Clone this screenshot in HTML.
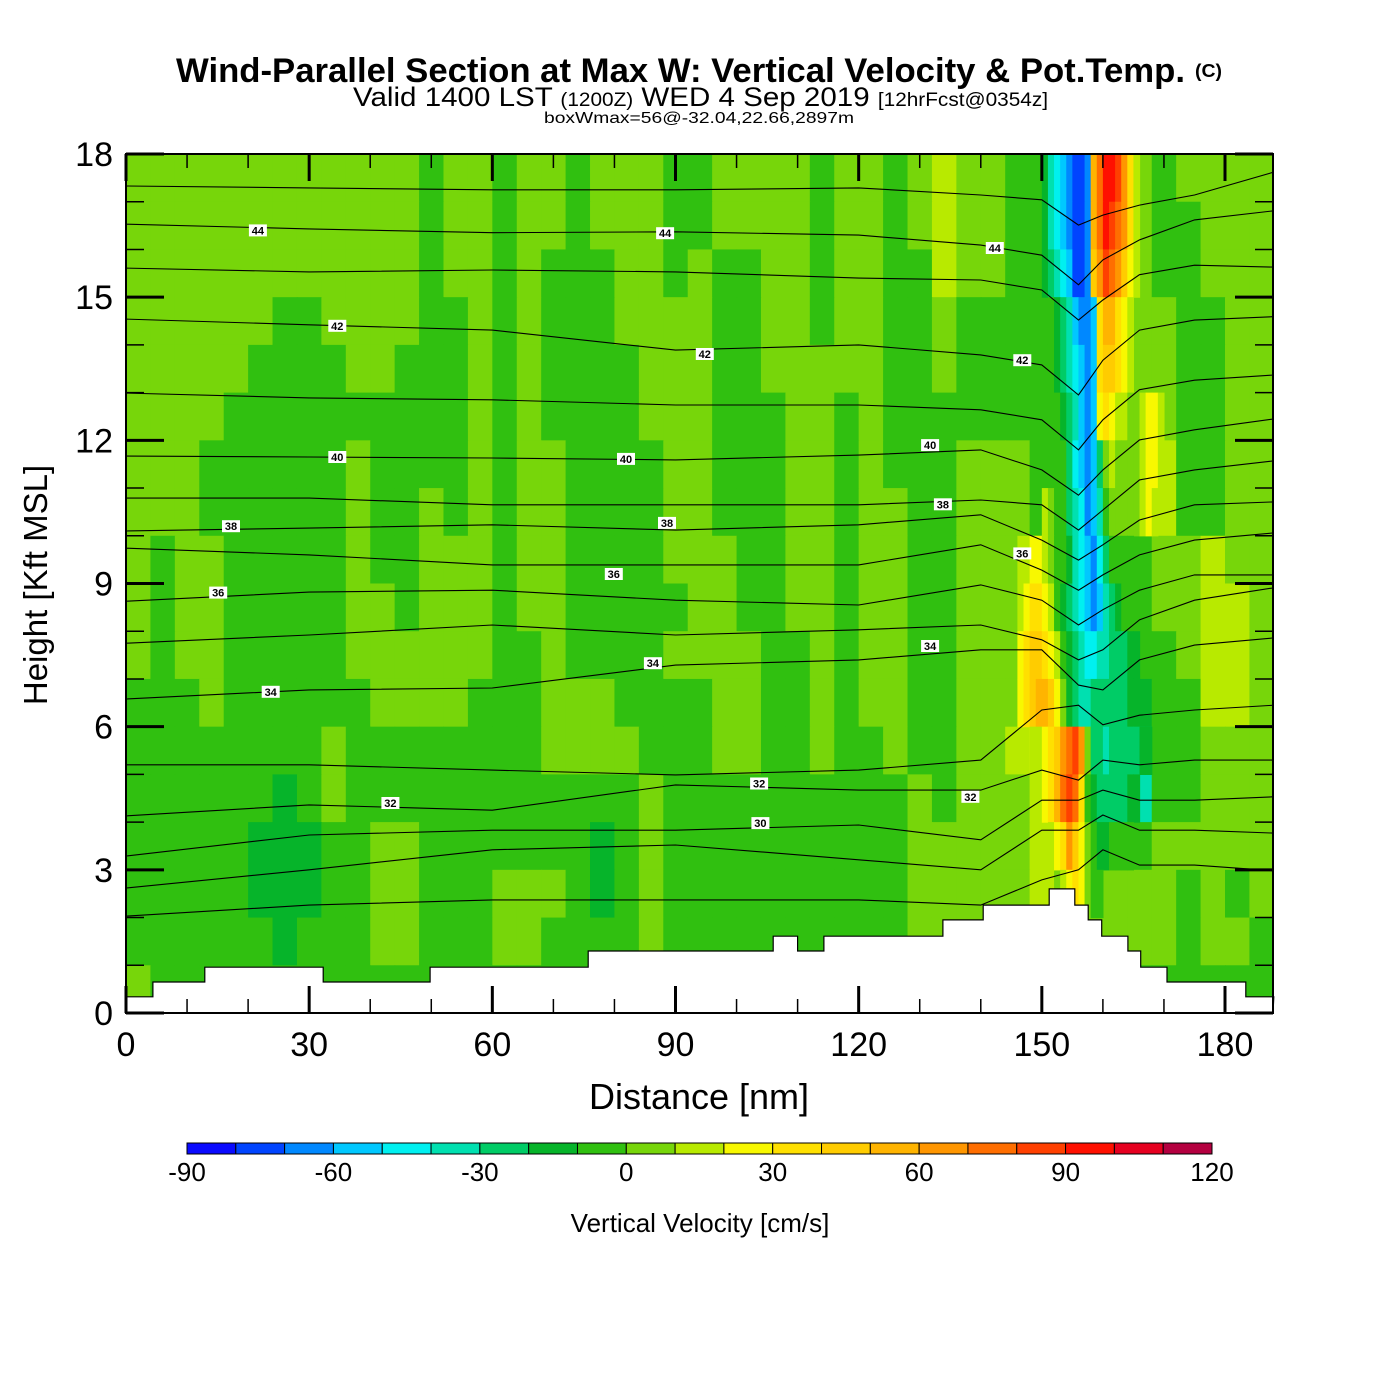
<!DOCTYPE html>
<html><head><meta charset="utf-8">
<style>
html,body{margin:0;padding:0;background:#fff;}
svg{display:block;font-family:"Liberation Sans",Arial,sans-serif;}
</style></head>
<body>
<svg id="chart" width="1400" height="1400" viewBox="0 0 1400 1400" xmlns="http://www.w3.org/2000/svg">
<rect x="0" y="0" width="1400" height="1400" fill="#fff"/>
<g>
<text x="176" y="82" font-size="34" font-weight="bold" textLength="1009" lengthAdjust="spacingAndGlyphs">Wind-Parallel Section at Max W: Vertical Velocity &amp; Pot.Temp.</text>
<text x="1195" y="77" font-size="18" font-weight="bold" textLength="27" lengthAdjust="spacingAndGlyphs">(C)</text>
<text x="353" y="106" font-size="27" textLength="695" lengthAdjust="spacingAndGlyphs">Valid 1400 LST <tspan font-size="19">(1200Z)</tspan> WED 4 Sep 2019 <tspan font-size="19">[12hrFcst@0354z]</tspan></text>
<text x="544" y="123" font-size="16" textLength="310" lengthAdjust="spacingAndGlyphs">boxWmax=56@-32.04,22.66,2897m</text>
</g>
<defs><clipPath id="plotclip"><rect x="126" y="154" width="1147" height="859"/></clipPath></defs>
<g id="field" clip-path="url(#plotclip)"></g>
<g id="theta" clip-path="url(#plotclip)"></g>
<g id="terrain"></g>
<g id="thetaLabels"></g>
<g id="axes"></g>
<g id="cbar"></g>
</svg>
<script>
// ---- data ----
const levelColors = ["#0a0aff","#0044ff","#0088ff","#00c8ff","#00f0f0","#00e0b0","#00cc66","#06b42a","#30c010","#77d60a","#b8ea00","#f8f800","#ffe000","#ffcc00","#ffb400","#ff9600","#ff6e00","#ff4000","#ff1000","#e60020","#b40040"];
const levelCodes = "0123456789abcdefghijk";
const cbarTicks = [-90,-60,-30,0,30,60,90,120];
const xTicks = [0,30,60,90,120,150,180];
const yTicks = [0,3,6,9,12,15,18];
const colWidthNm = 4;
const rowHeightKft = 1;
// background velocity bins (one char per 4-nm column), row 0 = 17-18 kft
const wRows = [
"999999999999"+"899"+"899"+"8999"+"88"+"9999"+"899"+"89a99"+"88888"+"98"+"9999",
"999999999999"+"899"+"899"+"8999"+"88"+"9999"+"899"+"89a99"+"88888"+"98"+"8999",
"999999999999"+"8"+"99"+"89888"+"99"+"8"+"9"+"88"+"99"+"8"+"99"+"88"+"a"+"99"+"88888"+"9"+"88"+"999",
"999999"+"88"+"9999"+"88"+"9"+"8"+"9"+"888"+"9999"+"88"+"99"+"8"+"99"+"88"+"9"+"88"+"88888"+"99"+"88"+"99",
"99999"+"8888"+"99"+"888"+"9"+"8"+"9"+"8888"+"999"+"88"+"99999"+"88"+"9"+"8888888"+"99"+"88"+"99",
"9999"+"8888888888"+"9"+"8"+"9"+"8888"+"999"+"888"+"99"+"8"+"9"+"8888888888"+"99"+"88"+"99",
"999"+"888888"+"9"+"8888"+"9"+"8"+"99"+"8888"+"99"+"888"+"99"+"8"+"9"+"888"+"999"+"8888"+"9"+"a"+"88"+"99",
"999"+"888888"+"9"+"88"+"9"+"8"+"9"+"8"+"99"+"8888"+"99"+"888"+"99"+"8"+"99"+"88"+"999"+"8888"+"9"+"a"+"88"+"99",
"9"+"8"+"99"+"88888"+"9"+"88"+"999"+"8"+"99"+"8888"+"999"+"88"+"99"+"8"+"99"+"88"+"9999"+"888"+"8"+"99"+"a"+"99",
"9"+"8"+"99"+"88888"+"99"+"8"+"999"+"8"+"99"+"88888"+"99"+"88"+"99"+"8"+"99"+"88"+"999"+"a"+"888"+"8"+"99"+"aa"+"9",
"9"+"8"+"99"+"88888"+"999999"+"88"+"9"+"8888"+"9999"+"88"+"9"+"8"+"99"+"88"+"999"+"a"+"888"+"88"+"9"+"aa"+"9",
"888"+"9"+"888888"+"9999"+"888"+"999"+"8888"+"99"+"88"+"9"+"8"+"99"+"88"+"999"+"c"+"888"+"7"+"88"+"aa"+"9",
"88888888"+"9"+"88888888"+"9999"+"888"+"99"+"88"+"9"+"88"+"9"+"88"+"99"+"a"+"b"+"888"+"6"+"88"+"999",
"888888"+"7"+"8"+"9"+"888888888888"+"9"+"8888888888"+"9"+"8"+"999"+"a"+"888"+"5"+"88"+"999",
"88888"+"777"+"88"+"99"+"8888888"+"7"+"8"+"9"+"8888888888"+"99999"+"a"+"888"+"8"+"99999",
"88888"+"777"+"88"+"99"+"888"+"999"+"8"+"7"+"8"+"9"+"8888888888"+"99999"+"a"+"999"+"99"+"8"+"9"+"8"+"9",
"888888"+"7"+"888"+"99"+"888"+"99"+"8888"+"9"+"8888888888"+"999999"+"9999"+"9"+"8"+"99"+"8",
"9"+"8888888888888888888888888888888888888888888888"
];
// narrow updraft/downdraft couplet, 1 nm cells
const stripeStartNm = [150,150,150,151,151,151,151,150,146,146,146,146,148,149,151,153,0,0];
const stripeLevels = [
"75432112egiihfca",
"75432112egihgfca",
"76543112dfhgfdba",
"87653223ceecba",
"87654323cddcba",
"88765323bcbaa99abba",
"8886432369a9999abba",
"a988654235899999aba",
"aabba98875432468888",
"abccba8765432356788",
"bcddcba8765445566677",
"bcdeedb9765566666677",
"aabcdfghf96656666677",
"abceghgc876666677",
"abcfdb98778888",
"abcb988",
"",
""
];
// terrain steps
const terrainStartNm = [0,4.4,12.9,32.3,49.8,75.7,106,110,114.3,133.8,140.4,151.2,155.4,157.6,159.8,164.1,166.2,170.5,183.4];
const terrainEndNm   = [4.4,12.9,32.3,49.8,75.7,106,110,114.3,133.8,140.4,151.2,155.4,157.6,159.8,164.1,166.2,170.5,183.4,188];
const terrainKft     = [0.34,0.65,0.96,0.65,0.96,1.3,1.61,1.3,1.61,1.95,2.26,2.6,2.26,1.95,1.61,1.3,0.96,0.65,0.34];
// potential temperature isentropes
const thetaXNm = [0,30,60,90,120,140,150,156,160,166,175,188];
const thetaValues = [45,44,43,42,41,40,39,38,37,36,35,34,33,32,31,30,29];
const th45 = [17.33,17.29,17.25,17.25,17.29,17.14,17.04,16.51,16.72,16.93,17.14,17.62];
const th44 = [16.53,16.43,16.35,16.37,16.30,16.09,15.88,15.26,15.78,16.20,16.62,16.81];
const th43 = [15.61,15.53,15.57,15.53,15.40,15.36,15.15,14.52,14.94,15.47,15.67,15.63];
const th42 = [14.54,14.42,14.31,13.89,14.00,13.79,13.58,12.95,13.68,14.31,14.52,14.59];
const th41 = [12.99,12.89,12.85,12.74,12.74,12.64,12.43,11.80,12.43,13.06,13.26,13.37];
const th40 = [11.67,11.65,11.63,11.59,11.69,11.80,11.38,10.85,11.38,12.01,12.22,12.45];
const th39 = [10.79,10.79,10.65,10.65,10.65,10.75,10.65,10.12,10.54,11.17,11.38,11.57];
const th38 = [10.10,10.16,10.23,10.12,10.23,10.44,9.91,9.49,9.81,10.33,10.65,10.71];
const th37 = [9.74,9.60,9.39,9.39,9.39,9.81,9.28,8.86,9.18,9.60,9.91,10.06];
const th36 = [8.63,8.82,8.86,8.65,8.55,8.97,8.65,8.13,8.45,8.86,9.18,9.18];
const th35 = [7.75,7.92,8.13,7.92,8.03,8.13,7.82,7.40,7.61,8.24,8.65,8.91];
const th34 = [6.58,6.77,6.81,7.29,7.40,7.61,7.61,6.87,6.77,7.40,7.71,7.86];
const th33 = [5.20,5.20,5.09,4.99,5.09,5.30,6.35,6.45,6.04,6.24,6.35,6.45];
const th32 = [4.13,4.36,4.25,4.78,4.67,4.67,5.09,4.88,5.30,5.20,5.30,5.30];
const th31 = [3.29,3.73,3.83,3.83,3.94,3.63,4.46,4.46,4.67,4.46,4.46,4.53];
const th30 = [2.62,3.00,3.42,3.52,3.21,3.00,3.83,3.83,4.15,3.83,3.83,3.77];
const th29 = [2.03,2.26,2.37,2.37,2.37,2.26,2.79,3.00,3.42,3.10,3.10,2.98];
const thetaLines = [th45,th44,th43,th42,th41,th40,th39,th38,th37,th36,th35,th34,th33,th32,th31,th30,th29];
const labelText = ["44","44","44","42","42","42","40","40","40","38","38","38","36","36","36","34","34","34","32","32","32","30"];
const labelNm  = [21.6,88.3,142.3,34.6,94.8,146.8,34.6,81.9,131.7,17.2,88.6,133.8,15.1,79.9,146.8,23.7,86.3,131.7,43.3,103.7,138.3,103.9];
const labelKft = [16.40,16.34,16.03,14.40,13.81,13.68,11.65,11.61,11.90,10.20,10.27,10.66,8.81,9.20,9.63,6.73,7.33,7.69,4.40,4.81,4.53,3.98];
</script>
<script>
const NS="http://www.w3.org/2000/svg";
const X0=126, X1=1273, Y0=1013, Y1=154, XMAX=188, YMAX=18;
function xS(nm){return X0+nm*(1225-126)/180;}
function yS(k){return Y0-k*(Y0-Y1)/YMAX;}
function mk(tag,attrs,parent){const e=document.createElementNS(NS,tag);for(const k in attrs)e.setAttribute(k,attrs[k]);parent.appendChild(e);return e;}
function colorOf(ch){const i=levelCodes.indexOf(ch);return levelColors[i<0?9:i];}

const field=document.getElementById('field');
mk('rect',{x:X0,y:Y1,width:X1-X0,height:Y0-Y1,fill:levelColors[9]},field);
wRows.forEach((s,r)=>{
  const k1=YMAX-r*rowHeightKft, k0=k1-rowHeightKft;
  for(let c=0;c<s.length;c++){
    const n0=c*colWidthNm, n1=Math.min(XMAX,n0+colWidthNm);
    const el=mk('rect',{x:xS(n0).toFixed(2),y:yS(k1).toFixed(2),width:(xS(n1)-xS(n0)+0.6).toFixed(2),height:(yS(k0)-yS(k1)+0.6).toFixed(2),fill:colorOf(s[c])},field);
    
    
  }
});
stripeLevels.forEach((str,r)=>{
  const k1=YMAX-r*rowHeightKft, k0=k1-rowHeightKft;
  for(let i=0;i<str.length;i++){
    const n0=stripeStartNm[r]+i;
    const el=mk('rect',{x:xS(n0).toFixed(2),y:yS(k1).toFixed(2),width:(xS(n0+1)-xS(n0)+0.6).toFixed(2),height:(yS(k0)-yS(k1)+0.6).toFixed(2),fill:colorOf(str[i])},field);
    
    
  }
});

const theta=document.getElementById('theta');
thetaLines.forEach((arr,li)=>{
  let d='';
  arr.forEach((k,i)=>{d+=(i?'L':'M')+xS(thetaXNm[i]).toFixed(1)+' '+yS(k).toFixed(1);});
  const p=mk('path',{d:d,fill:'none',stroke:'#000','stroke-width':'1.1'},theta);
  
  
});

const terr=document.getElementById('terrain');
let td='M'+xS(0)+' '+Y0;
terrainKft.forEach((h,i)=>{td+=' L'+xS(terrainStartNm[i]).toFixed(1)+' '+yS(h).toFixed(1)+' L'+xS(terrainEndNm[i]).toFixed(1)+' '+yS(h).toFixed(1);});
td+=' L'+X1+' '+Y0+' Z';
const tp=mk('path',{d:td,fill:'#fff',stroke:'#000','stroke-width':'1.2'},terr);



const tl=document.getElementById('thetaLabels');
labelText.forEach((t,i)=>{
  const cx=xS(labelNm[i]), cy=yS(labelKft[i]);
  const r=mk('rect',{x:(cx-9).toFixed(1),y:(cy-6).toFixed(1),width:18,height:12,fill:'#fff'},tl);
  
  
  const tx=mk('text',{x:cx.toFixed(1),y:(cy+4).toFixed(1),'font-size':'11','font-weight':'bold','text-anchor':'middle'},tl);
  tx.textContent=t;
  
  
});

const ax=document.getElementById('axes');
const frame=mk('rect',{x:X0,y:Y1,width:X1-X0,height:Y0-Y1,fill:'none',stroke:'#000','stroke-width':'2'},ax);


for(let n=0;n<=XMAX;n+=10){
  const major=n%30===0, L=major?27:14, x=xS(n);
  const t1=mk('line',{x1:x,y1:Y0,x2:x,y2:Y0-L,stroke:'#000','stroke-width':major?3:1.5},ax);
  
  
  const t2=mk('line',{x1:x,y1:Y1,x2:x,y2:Y1+L,stroke:'#000','stroke-width':major?3:1.5},ax);
  
  
}
for(let k=0;k<=YMAX;k+=1){
  const major=k%3===0, L=major?38:18, y=yS(k);
  const t1=mk('line',{x1:X0,y1:y,x2:X0+L,y2:y,stroke:'#000','stroke-width':major?3:1.5},ax);
  
  
  const t2=mk('line',{x1:X1,y1:y,x2:X1-L,y2:y,stroke:'#000','stroke-width':major?3:1.5},ax);
  
  
}
xTicks.forEach(v=>{
  const t=mk('text',{x:xS(v),y:1056,'font-size':'34','text-anchor':'middle'},ax);
  t.textContent=v;
  
  
});
yTicks.forEach(v=>{
  const t=mk('text',{x:113,y:yS(v)+12,'font-size':'34','text-anchor':'end'},ax);
  t.textContent=v;
  
  
});
const xt=mk('text',{x:699,y:1109,'font-size':'36','text-anchor':'middle'},ax);
xt.textContent='Distance [nm]';


const yt=mk('text',{x:0,y:0,'font-size':'33','text-anchor':'middle',transform:'translate(47,585) rotate(-90)'},ax);
yt.textContent='Height [Kft MSL]';



const cb=document.getElementById('cbar');
const CB0=187, CB1=1212, CBY=1143, CBH=11, vMin=-90, vMax=120;
function cS(v){return CB0+(v-vMin)*(CB1-CB0)/(vMax-vMin);}
levelColors.forEach((col,i)=>{
  const v0=vMin+i*10;
  const r=mk('rect',{x:cS(v0).toFixed(2),y:CBY,width:(cS(v0+10)-cS(v0)).toFixed(2),height:CBH,fill:col,stroke:'#000','stroke-width':'1'},cb);
  
  
});
cbarTicks.forEach(v=>{
  const t=mk('text',{x:cS(v),y:1181,'font-size':'26','text-anchor':'middle'},cb);
  t.textContent=v;
  
  
});
const ct=mk('text',{x:700,y:1232,'font-size':'26','text-anchor':'middle'},cb);
ct.textContent='Vertical Velocity [cm/s]';


</script>
</body></html>
